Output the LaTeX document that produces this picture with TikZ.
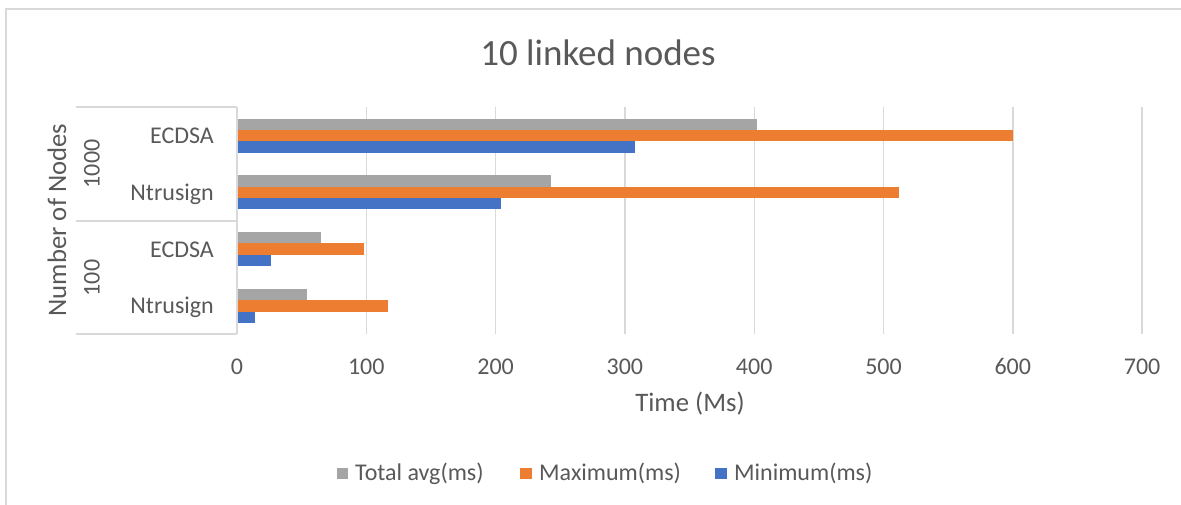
\documentclass[tikz,border=0pt]{standalone}
\usepackage{fontspec}
\setmainfont{Carlito}
\definecolor{txt}{HTML}{595959}
\definecolor{gridc}{HTML}{D9D9D9}
\definecolor{cgray}{HTML}{A5A5A5}
\definecolor{corange}{HTML}{ED7D31}
\definecolor{cblue}{HTML}{4472C4}
\begin{document}
\begin{tikzpicture}[x=1pt,y=-1pt,
  gridline/.style={draw=gridc, line width=1.4pt},
  frame/.style={draw=gridc, line width=1.5pt},
  ticklab/.style={text=txt, font=\fontsize{24}{28}\selectfont, inner sep=0pt, anchor=base},
  catlab/.style={text=txt, font=\fontsize{24}{28}\selectfont, inner sep=0pt},
  axtitle/.style={text=txt, font=\fontsize{26.7}{31}\selectfont, inner sep=0pt},
  legbox/.style={minimum size=11.6pt, inner sep=0pt},
  legtext/.style={text=txt, font=\fontsize{24}{28}\selectfont, inner sep=0pt, anchor=base west}]
\useasboundingbox (0,0) rectangle (1181,505);
\fill[white] (0,0) rectangle (1181,505);
% chart frame
\draw[frame] (6,505) -- (6,9) -- (1181,9);
% title
\node[text=txt, font=\fontsize{37}{44}\selectfont, inner sep=0pt, anchor=base] (title) at (598,65.5) {10 linked nodes};
% vertical grid lines
\foreach \v in {1,...,7} \draw[gridline] ({237+129.3*\v},107) -- ({237+129.3*\v},334);
% bars
\foreach \c/\g/\o/\b in {135.7/402/600/308, 192.4/243/512/204, 249.1/65/98/26, 305.8/54/117/14} {
  \fill[cgray]   (237,{\c-17})   rectangle ({237+1.293*\g},{\c-5.7});
  \fill[corange] (237,{\c-5.7})  rectangle ({237+1.293*\o},{\c+5.7});
  \fill[cblue]   (237,{\c+5.7})  rectangle ({237+1.293*\b},{\c+17});
}
% category axis
\draw[gridline] (237,107) -- (237,334);
\draw[gridline] (76,107) -- (237,107);
\draw[gridline] (76,221) -- (237,221);
\draw[gridline] (76,334) -- (237,334);
% tick labels
\foreach \v in {0,...,7} \node[ticklab] (tick\v) at ({237+129.3*\v},374) {\the\numexpr\v*100\relax};
% category labels
\node[catlab, anchor=base east] (c1) at (214,143.7) {ECDSA};
\node[catlab, anchor=base east] (c2) at (214,200.4) {Ntrusign};
\node[catlab, anchor=base east] (c3) at (214,257.1) {ECDSA};
\node[catlab, anchor=base east] (c4) at (214,313.8) {Ntrusign};
\node[catlab, rotate=90] (g1) at (92,164) {1000};
\node[catlab, rotate=90] (g2) at (92,278) {100};
% axis titles
\node[axtitle, rotate=90] (ytitle) at (57,220) {Number of Nodes};
\node[axtitle, anchor=base] (xtitle) at (690,411) {Time (Ms)};
% legend
\node[legbox, fill=cgray] (lg1) at (342.5,473.5) {};
\node[legtext] (lt1) at (355,480) {Total avg(ms)};
\node[legbox, fill=corange] (lg2) at (526,473.5) {};
\node[legtext] (lt2) at (539,480) {Maximum(ms)};
\node[legbox, fill=cblue] (lg3) at (721,473.5) {};
\node[legtext] (lt3) at (734,480) {Minimum(ms)};
\end{tikzpicture}
\end{document}
